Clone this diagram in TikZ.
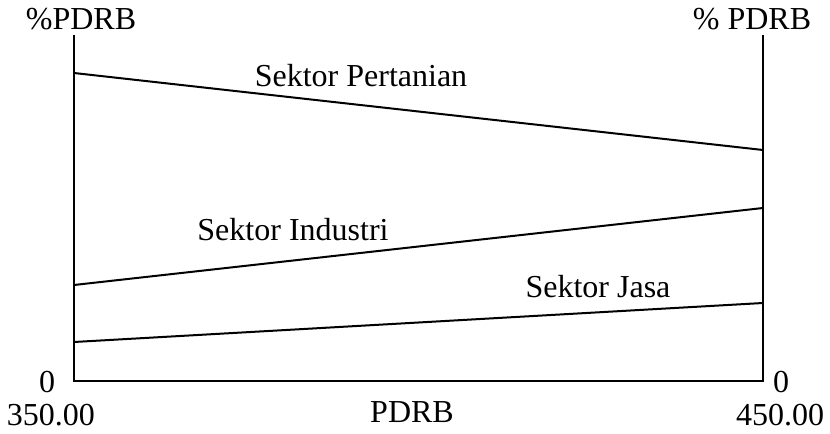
\documentclass[tikz,border=0pt]{standalone}
\usepackage{fontspec}
\setmainfont{Liberation Serif}
\usetikzlibrary{positioning}

\begin{document}
\begin{tikzpicture}[x=0.75pt, y=-0.75pt, line width=1.5pt,
    lbl/.style={anchor=base, inner sep=0pt, font=\fontsize{24}{29}\selectfont}]
    \useasboundingbox (0,0) rectangle (830,434);
    % Axis end points
    \coordinate (ltop) at (74,35);
    \coordinate (lbot) at (74,381);
    \coordinate (rtop) at (763,35);
    \coordinate (rbot) at (763,381);
    % Sector end points
    \coordinate (tani1) at (74,73);
    \coordinate (tani2) at (763,150);
    \coordinate (ind1) at (74,285);
    \coordinate (ind2) at (763,208);
    \coordinate (jasa1) at (74,342);
    \coordinate (jasa2) at (763,303);

    % Axes
    \draw (ltop) -- (lbot) -- (rbot) -- (rtop);

    % Sector lines
    \draw (tani1) -- (tani2);
    \draw (ind1) -- (ind2);
    \draw (jasa1) -- (jasa2);

    % Axis labels
    \node[lbl] (ylabl) at (81,30) {\%PDRB};
    \node[lbl] (ylabr) at (752,30) {\% PDRB};
    \node[lbl] (zerol) at (47,392) {0};
    \node[lbl] (zeror) at (781,392) {0};
    \node[lbl] (xmin) at (51,425) {350.00};
    \node[lbl] (xmax) at (780,425) {450.00};
    \node[lbl] (xlab) at (412,422) {PDRB};

    % Sector labels
    \node[lbl] (tani) at (361,87) {Sektor Pertanian};
    \node[lbl] (ind) at (293,241) {Sektor Industri};
    \node[lbl] (jasa) at (598,297) {Sektor Jasa};
\end{tikzpicture}
\end{document}
